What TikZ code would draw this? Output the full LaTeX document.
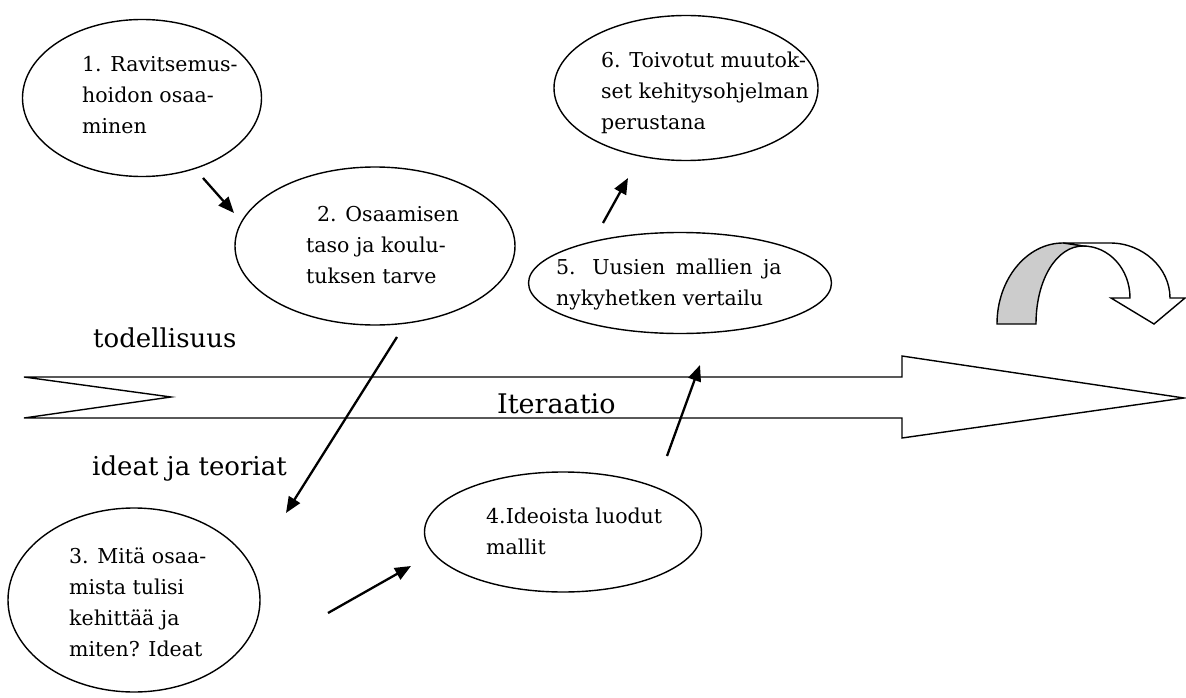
\documentclass[tikz,border=0pt]{standalone}
\usepackage{fontspec}
\setmainfont{DejaVu Serif}
\usetikzlibrary{shapes.geometric,arrows.meta}
\begin{document}
\begin{tikzpicture}[x=1pt,y=-1pt,
  ell/.style={draw,ellipse,line width=1.4pt,inner sep=0pt},
  etxt/.style={anchor=base west,inner sep=0pt,align=left,font=\fontsize{20.5}{31}\selectfont},
  bigtxt/.style={anchor=base west,inner sep=0pt,font=\fontsize{26}{30}\selectfont},
  conn/.style={line width=2.3pt,-{Triangle[length=16pt,width=13pt]}},
  outl/.style={line width=1.4pt,line join=miter}]
\useasboundingbox (0,0) rectangle (1186,698);

% big arrow
\draw[outl,fill=white] (24,377) -- (902,377) -- (902,356) -- (1184,398) -- (902,438) -- (902,418) -- (24,418) -- (171,397) -- cycle;

% curved arrow
\draw[outl,fill=white] (1063,243) -- (1110,243) .. controls (1143,243) and (1170,268) .. (1170,298)
  -- (1185,298) -- (1154,324) -- (1111,298) -- (1130,298)
  .. controls (1130,269) and (1109,246) .. (1083,246) -- cycle;
\draw[outl,fill=gray!40] (997,324) .. controls (997,279) and (1027,243) .. (1063,243)
  -- (1083,246) .. controls (1057,246) and (1036,279) .. (1036,324) -- cycle;

% ellipses
\node[ell,minimum width=239pt,minimum height=157pt] (e1) at (142,98) {};
\node[ell,minimum width=280pt,minimum height=158pt] (e2) at (375,246) {};
\node[ell,minimum width=252pt,minimum height=184pt] (e3) at (134,600) {};
\node[ell,minimum width=277pt,minimum height=120pt] (e4) at (563,532) {};
\node[ell,minimum width=303pt,minimum height=101pt] (e5) at (680,283) {};
\node[ell,minimum width=264pt,minimum height=145pt] (e6) at (686,88) {};

% ellipse texts (anchored at the baseline of the last line)
\node[etxt] (x1) at (82,134) {1. Ravitsemus-\\hoidon osaa-\\minen};
\node[etxt] (x2) at (306,283) {\hspace{11pt}2. Osaamisen\\taso ja koulu-\\tuksen tarve};
\node[etxt] (x3) at (69,656) {3. Mitä osaa-\\mista tulisi\\kehittää ja\\miten? Ideat};
\node[etxt] (x4) at (486,554) {4.Ideoista luodut\\mallit};
\node[etxt] (x5) at (556,305) {5.\hspace{8pt} Uusien\hspace{4pt} mallien\hspace{4pt} ja\\nykyhetken vertailu};
\node[etxt] (x6) at (601,130) {6. Toivotut muutok-\\set kehitysohjelman\\perustana};

% labels
\node[bigtxt] (l1) at (93,347) {todellisuus};
\node[bigtxt] (l2) at (92,475) {ideat ja teoriat};
\node[bigtxt,font=\fontsize{27}{30}\selectfont] (l3) at (497,413) {Iteraatio};

% connectors
\coordinate (a1s) at (203,178); \coordinate (a1e) at (234,213);
\coordinate (a2s) at (397,337); \coordinate (a2e) at (286,513);
\coordinate (a3s) at (328,613); \coordinate (a3e) at (411,566);
\coordinate (a4s) at (667,456); \coordinate (a4e) at (700,365);
\coordinate (a5s) at (603,223); \coordinate (a5e) at (628,178);
\draw[conn] (a1s) -- (a1e);
\draw[conn] (a2s) -- (a2e);
\draw[conn] (a3s) -- (a3e);
\draw[conn] (a4s) -- (a4e);
\draw[conn] (a5s) -- (a5e);
\end{tikzpicture}
\end{document}
